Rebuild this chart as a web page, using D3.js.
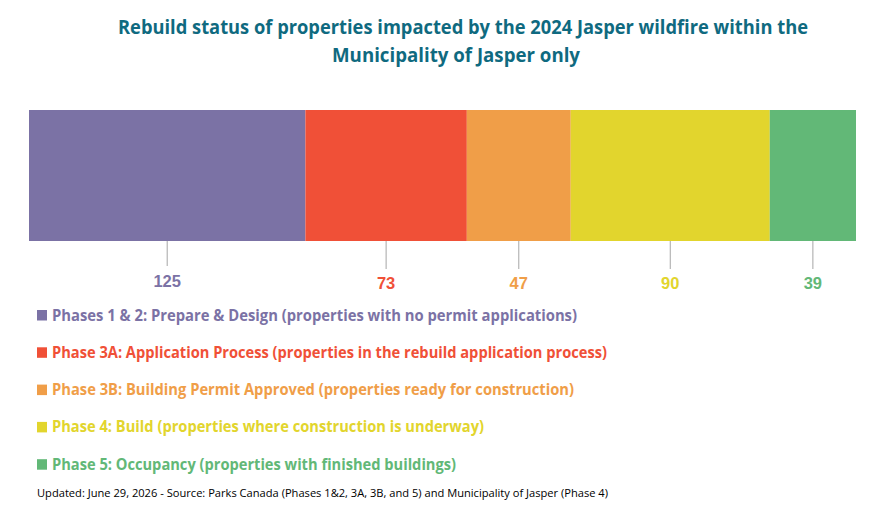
<!DOCTYPE html>
<html>
<head>
<meta charset="utf-8">
<title>Jasper rebuild status</title>
<script src="https://cdn.jsdelivr.net/npm/d3@7"></script>
<style>
  body { margin: 0; background: #fff; }
  svg text { font-family: "Open Sans", "Noto Sans", sans-serif; }
  svg text.val { font-family: "Liberation Sans", Arial, sans-serif; }
</style>
</head>
<body>
<svg id="chart" width="885" height="517"></svg>
<script>
// data
var phases = ["Phases 1 & 2", "Phase 3A", "Phase 3B", "Phase 4", "Phase 5"];
var counts = [125, 73, 47, 90, 39];
var legendLabels = [
  "Phases 1 & 2: Prepare & Design (properties with no permit applications)",
  "Phase 3A: Application Process (properties in the rebuild application process)",
  "Phase 3B: Building Permit Approved (properties ready for construction)",
  "Phase 4: Build (properties where construction is underway)",
  "Phase 5: Occupancy (properties with finished buildings)"
];
var colors = ["#7b72a5", "#f05037", "#f09e48", "#e2d52d", "#62b877"];
var titleLines = ["Rebuild status of properties impacted by the 2024 Jasper wildfire within the",
                  "Municipality of Jasper only"];
var footnote = "Updated: June 29, 2026  -  Source: Parks Canada (Phases 1&2, 3A, 3B, and 5) and Municipality of Jasper (Phase 4)";

var svg = d3.select("#chart");

// title
svg.selectAll("text.title")
  .data(titleLines)
  .enter().append("text")
  .attr("class", "title")
  .attr("x", function(d, i) { return i === 0 ? 463 : 456; })
  .attr("y", function(d, i) { return 34 + i * 28; })
  .attr("text-anchor", "middle")
  .attr("font-size", 19.6)
  .attr("font-weight", "bold")
  .attr("fill", "#0f6a80")
  .attr("textLength", function(d, i) { return i === 0 ? 690 : 248; })
  .attr("lengthAdjust", "spacingAndGlyphs")
  .text(function(d) { return d; });

// stacked bar
var starts = [];
var acc = 0;
counts.forEach(function(c) { starts.push(acc); acc += c; });

var x = d3.scaleLinear().domain([0, d3.sum(counts)]).range([29, 856]);
var barTop = 110, barBottom = 241;

svg.selectAll("rect.seg")
  .data(counts)
  .enter().append("rect")
  .attr("class", "seg")
  .attr("x", function(d, i) { return x(starts[i]); })
  .attr("y", barTop)
  .attr("width", function(d, i) { return x(starts[i] + d) - x(starts[i]); })
  .attr("height", barBottom - barTop)
  .attr("fill", function(d, i) { return colors[i]; });

// leader lines and value labels
function mid(i) { return x(starts[i] + counts[i] / 2); }

svg.selectAll("line.lead")
  .data(counts)
  .enter().append("line")
  .attr("class", "lead")
  .attr("x1", function(d, i) { return mid(i); })
  .attr("x2", function(d, i) { return mid(i); })
  .attr("y1", barBottom)
  .attr("y2", function(d, i) { return i === 0 ? 266 : 269; })
  .attr("stroke", "#a6a6a6")
  .attr("stroke-width", 1);

svg.selectAll("text.val")
  .data(counts)
  .enter().append("text")
  .attr("class", "val")
  .attr("x", function(d, i) { return mid(i); })
  .attr("y", function(d, i) { return i === 0 ? 287 : 289; })
  .attr("text-anchor", "middle")
  .attr("font-size", 16.5)
  .attr("font-weight", "bold")
  .attr("fill", function(d, i) { return colors[i]; })
  .text(function(d) { return d; });

// legend
var leg = svg.selectAll("g.leg")
  .data(legendLabels)
  .enter().append("g")
  .attr("class", "leg")
  .attr("transform", function(d, i) { return "translate(0," + (320.5 + i * 37.3) + ")"; });

leg.append("rect")
  .attr("x", 37)
  .attr("y", -10.5)
  .attr("width", 10)
  .attr("height", 10.5)
  .attr("fill", function(d, i) { return colors[i]; });

var legWidths = [525, 555, 522, 432, 404];
leg.append("text")
  .attr("x", 52)
  .attr("y", 0)
  .attr("font-size", 15.4)
  .attr("font-weight", "bold")
  .attr("fill", function(d, i) { return colors[i]; })
  .attr("textLength", function(d, i) { return legWidths[i]; })
  .attr("lengthAdjust", "spacingAndGlyphs")
  .text(function(d) { return d; });

// footnote
svg.append("text")
  .attr("x", 37)
  .attr("y", 497)
  .attr("font-size", 11.5)
  .attr("fill", "#000")
  .attr("textLength", 571)
  .attr("lengthAdjust", "spacingAndGlyphs")
  .text(footnote);
</script>
</body>
</html>
